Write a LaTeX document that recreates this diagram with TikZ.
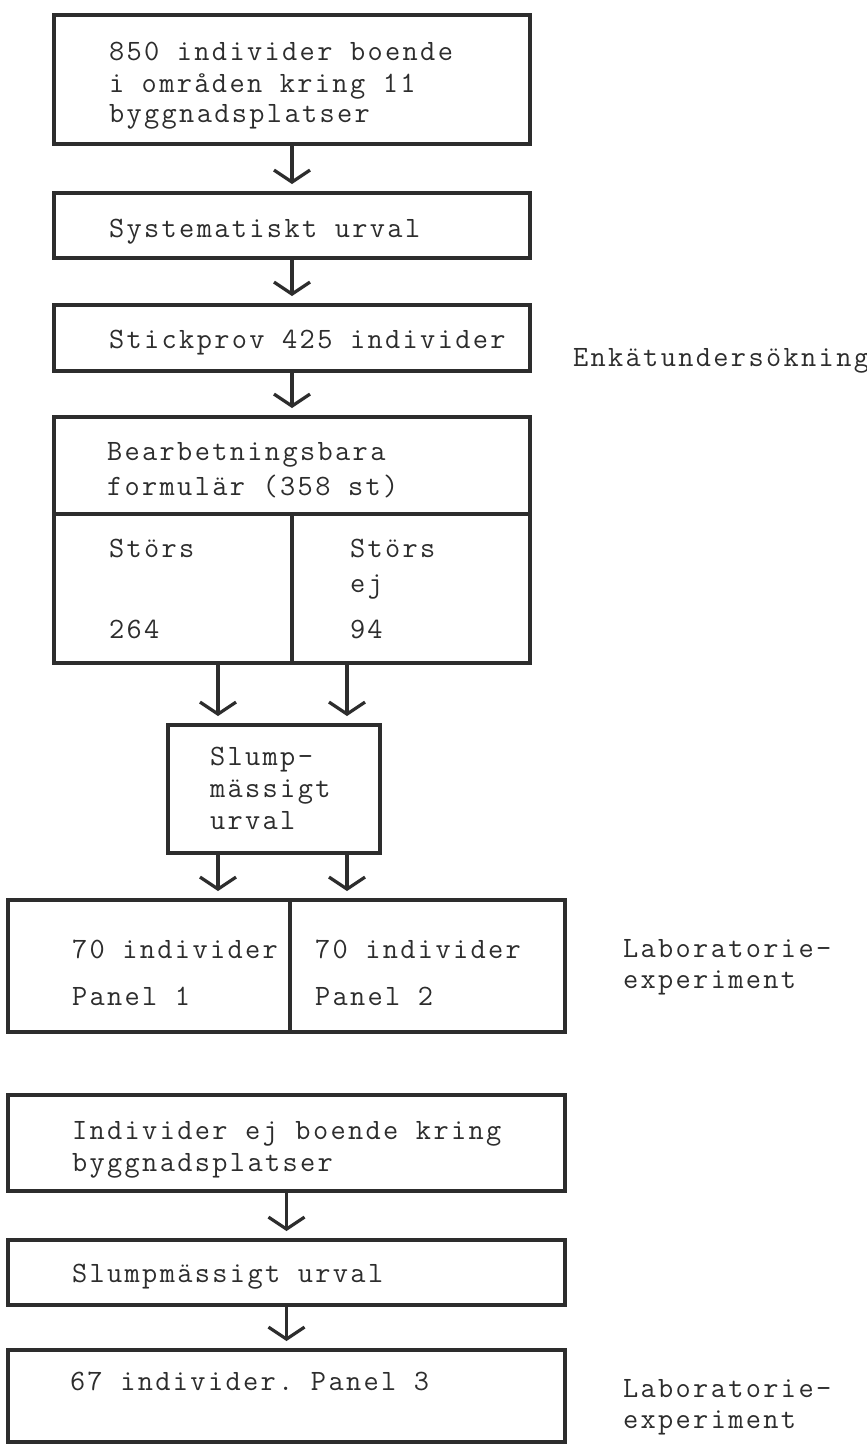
\documentclass[tikz,border=0pt]{standalone}
\usepackage{fontspec}
\setmonofont{Latin Modern Mono}[LetterSpace=8]
\usetikzlibrary{arrows.meta}
\definecolor{ink}{RGB}{45,45,45}
\begin{document}
\begin{tikzpicture}[x=1pt,y=-1pt,
  box/.style={draw=ink,line width=3.6pt,rectangle,inner sep=0pt,outer sep=0pt},
  txt/.style={anchor=base west,inner sep=0pt,outer sep=0pt,text=ink,font=\ttfamily\fontsize{29.5}{31}\selectfont},
  arr/.style={draw=ink,line width=3.2pt,-{Straight Barb[length=12pt,width=36pt,line width=3.2pt]},shorten >=9pt}]
\fill[white] (0,0) rectangle (867,1444);
\useasboundingbox (0,0) rectangle (867,1444);
% columns for the paired arrows
\coordinate (xA) at (218,0);
\coordinate (xB) at (347,0);
% upper chain
\node[box,minimum width=476,minimum height=129] (b1) at (292,79.5) {};
\node[box,minimum width=476,minimum height=65] (b2) at (292,225.5) {};
\node[box,minimum width=476,minimum height=66] (b3) at (292,338) {};
\node[box,minimum width=476,minimum height=97] (b4t) at (292,465.5) {};
\node[box,minimum width=238,minimum height=149] (b4l) at (173,588.5) {};
\node[box,minimum width=238,minimum height=149] (b4r) at (411,588.5) {};
\node[box,minimum width=212,minimum height=128] (sl) at (274,789) {};
\node[box,minimum width=282,minimum height=132] (pl) at (149,966) {};
\node[box,minimum width=275,minimum height=132] (pr) at (427.5,966) {};
% lower chain
\node[box,minimum width=557,minimum height=96] (b5) at (286.5,1143) {};
\node[box,minimum width=557,minimum height=65] (b6) at (286.5,1272.5) {};
\node[box,minimum width=557,minimum height=92] (b7) at (286.5,1396) {};
% texts
\node[txt] (t1a) at (109,60) {850 individer boende};
\node[txt] (t1b) at (109,92) {i områden kring 11};
\node[txt] (t1c) at (109,122) {byggnadsplatser};
\node[txt] (t2) at (109,237) {Systematiskt urval};
\node[txt] (t3) at (109,348) {Stickprov 425 individer};
\node[txt] (enk) at (573,366) {Enkätundersökning};
\node[txt] (t4a) at (107,460) {Bearbetningsbara};
\node[txt] (t4b) at (107,495) {formulär (358 st)};
\node[txt] (t4c) at (109,557) {Störs};
\node[txt] (t4d) at (109,638) {264};
\node[txt] (t4e) at (350,557) {Störs};
\node[txt] (t4f) at (350,592) {ej};
\node[txt] (t4g) at (350,638) {94};
\node[txt] (ts1) at (210,765) {Slump-};
\node[txt] (ts2) at (210,797) {mässigt};
\node[txt] (ts3) at (210,829) {urval};
\node[txt] (tp1) at (72,958) {70 individer};
\node[txt] (tp2) at (72,1005) {Panel 1};
\node[txt] (tp3) at (315,958) {70 individer};
\node[txt] (tp4) at (315,1005) {Panel 2};
\node[txt] (lab1a) at (623,957) {Laboratorie-};
\node[txt] (lab1b) at (623,988) {experiment};
\node[txt] (t5a) at (72,1139) {Individer ej boende kring};
\node[txt] (t5b) at (72,1171) {byggnadsplatser};
\node[txt] (t6) at (72,1282) {Slumpmässigt urval};
\node[txt] (t7) at (70,1390) {67 individer. Panel 3};
\node[txt] (lab2a) at (623,1397) {Laboratorie-};
\node[txt] (lab2b) at (623,1428) {experiment};
% connectors
\draw[arr] (b1.south) -- (b2.north);
\draw[arr] (b2.south) -- (b3.north);
\draw[arr] (b3.south) -- (b4t.north);
\draw[arr] (b4l.south -| xA) -- (sl.north -| xA);
\draw[arr] (b4r.south -| xB) -- (sl.north -| xB);
\draw[arr] (sl.south -| xA) -- (pl.north -| xA);
\draw[arr] (sl.south -| xB) -- (pr.north -| xB);
\draw[arr] (b5.south) -- (b6.north);
\draw[arr] (b6.south) -- (b7.north);
\end{tikzpicture}
\end{document}
